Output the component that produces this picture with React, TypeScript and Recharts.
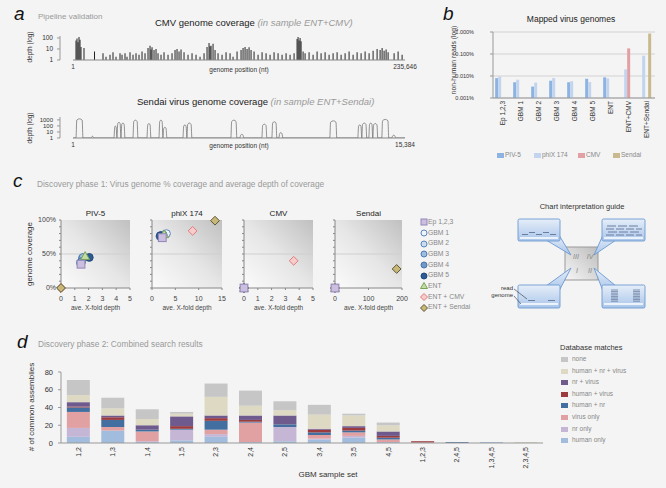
import React from 'react';
import {
  BarChart, Bar, XAxis, YAxis, CartesianGrid, ScatterChart, Scatter,
  ReferenceLine, ReferenceArea, LineChart, Line,
} from 'recharts';

const FONT = '"Liberation Sans", Arial, Helvetica, sans-serif';

// ---------- a: pipeline validation (genome position nt, read depth) ----------
const cmvLength = 235646;
const cmvCoverage: [number, number][] = [
  [2130, 60], [2840, 90], [3550, 40], [4260, 120], [4970, 70], [5680, 15], [7810, 12],
  [15265, 6], [21300, 4], [23430, 2], [26270, 3], [28400, 5], [30530, 2], [33370, 4],
  [34790, 3], [36920, 4], [38340, 2], [40470, 5], [42600, 3], [44730, 4], [46860, 3],
  [48990, 6], [51120, 4], [53250, 12], [54670, 20], [55380, 9], [56090, 14], [57510, 8], [58930, 10],
  [60350, 4], [62480, 3], [64610, 5], [67450, 3], [70290, 4], [72420, 8], [73840, 10],
  [75260, 6], [76680, 9], [78810, 5], [81650, 3], [84490, 4], [87330, 3], [90170, 2],
  [93010, 4], [95140, 15], [96560, 35], [97270, 18], [97980, 20], [99400, 30], [100820, 8], [102950, 4],
  [105790, 3], [108630, 5], [111470, 4], [113600, 2], [116440, 6], [119280, 8],
  [120700, 12], [122120, 15], [123540, 10], [124960, 14], [126380, 8], [128510, 6],
  [131350, 3], [134190, 5], [137030, 4], [139870, 3], [142710, 5], [145550, 4],
  [148390, 3], [151230, 4], [154070, 3], [156910, 4], [159040, 80], [159750, 120],
  [160460, 60], [161170, 100], [161880, 50], [163300, 6], [164720, 4], [167560, 5],
  [170400, 3], [173240, 6], [176080, 4], [178920, 5], [181760, 3], [184600, 4],
  [187440, 5], [190280, 3], [193120, 4], [195960, 6], [198800, 3], [201640, 5],
  [204480, 4], [207320, 6], [210160, 4], [213000, 7], [215840, 10], [217970, 8],
  [219390, 12], [220810, 7], [222230, 9], [223650, 5], [227910, 4], [230750, 6], [233590, 3],
];

const sendaiLength = 15384;
const sendaiCoverage: [number, number][] = [
  [1, 1],
  [139, 1], [176, 900], [301, 1500], [426, 900], [463, 1],
  [833, 1], [870, 1.5], [903, 2], [935, 1.5], [972, 1],
  [1898, 1], [1935, 60], [1968, 100], [2000, 60], [2037, 1],
  [2074, 240], [2130, 400], [2185, 240], [2222, 1],
  [2259, 180], [2315, 300], [2371, 180], [2408, 1],
  [2778, 1], [2815, 540], [2894, 900], [2973, 540], [3010, 1],
  [3426, 1], [3463, 150], [3519, 250], [3574, 150], [3611, 1],
  [3982, 1], [4019, 540], [4075, 900], [4130, 540], [4167, 1],
  [4204, 36], [4260, 60], [4315, 36], [4352, 1],
  [5093, 1], [5130, 90], [5186, 150], [5241, 90], [5278, 1],
  [5315, 180], [5394, 300], [5473, 180], [5510, 1],
  [7315, 1], [7352, 540], [7454, 900], [7556, 540], [7593, 1],
  [7732, 1], [7769, 3], [7825, 4], [7880, 3], [7917, 1],
  [8751, 1], [8788, 120], [8866, 200], [8945, 120], [8982, 1],
  [9214, 1], [9251, 300], [9330, 500], [9408, 300], [9445, 1],
  [9538, 1], [9575, 5], [9630, 8], [9686, 5], [9723, 1],
  [11899, 1], [11936, 420], [12061, 700], [12186, 420], [12223, 1],
  [13196, 1], [13233, 90], [13288, 150], [13344, 90], [13381, 1],
  [13418, 180], [13497, 300], [13575, 180], [13612, 1],
  [13705, 1], [13742, 180], [13797, 300], [13853, 180], [13890, 1],
  [13927, 150], [14006, 250], [14085, 150], [14122, 1],
  [14307, 1], [14344, 720], [14469, 1200], [14594, 720], [14631, 1],
  [14770, 1], [14807, 2], [14862, 3], [14918, 2], [14955, 1],
  [15384, 1],
];

// ---------- b: mapped virus genomes (% of non-human reads) ----------
const mappedSamples = ['Ep 1,2,3', 'GBM 1', 'GBM 2', 'GBM 3', 'GBM 4', 'GBM 5', 'ENT', 'ENT+CMV', 'ENT+Sendai'];
const piv5Reads = [0.008, 0.0052, 0.0033, 0.0061, 0.0052, 0.0075, 0.0087, null, null];
const phixReads = [0.0095, 0.0068, 0.005, 0.0081, 0.0058, 0.0053, 0.0078, 0.02, 0.084];
const cmvReads = [null, null, null, null, null, null, null, 0.18, null];
const sendaiReads = [null, null, null, null, null, null, null, null, 0.85];
const mappedSeries = [
  { key: 'piv5', name: 'PIV-5', color: '#8db3e2' },
  { key: 'phix', name: 'phiX 174', color: '#c3d5ee' },
  { key: 'cmv', name: 'CMV', color: '#e3a0a4' },
  { key: 'sendai', name: 'Sendai', color: '#c9b98e' },
];

// ---------- c: genome coverage (%) vs average depth ----------
const sampleNames = ['Ep 1,2,3', 'GBM 1', 'GBM 2', 'GBM 3', 'GBM 4', 'GBM 5', 'ENT', 'ENT + CMV', 'ENT + Sendai'];
const piv5Depth = [1.45, 1.55, 1.4, 1.6, 1.5, 2.05, 1.75, 0, 0];
const piv5Cov = [35, 44, 37, 45, 39, 45, 47, 0, 0];
const phixDepth = [2.2, 3.1, 2.4, 1.9, 1.7, 1.8, 2.6, 8.7, 13.5];
const phixCov = [74, 80, 78, 77, 76, 77, 79, 84, 99];
const cmvDepth = [0, 0, 0, 0, 0, 0, 0, 3.6, 0];
const cmvCov = [0, 0, 0, 0, 0, 0, 0, 40, 0];
const sendaiDepth = [0, 0, 0, 0, 0, 0, 0, 0, 184];
const sendaiCov = [0, 0, 0, 0, 0, 0, 0, 0, 28];
const covTicks = [0, 10, 20, 30, 40, 50, 60, 70, 80, 90, 100];

const sampleStyles = [
  { kind: 'square', fill: '#cbbfe0', stroke: '#9385b8' },
  { kind: 'circle', fill: '#eef4fb', stroke: '#5b84b8' },
  { kind: 'circle', fill: '#c9dcf0', stroke: '#5b84b8' },
  { kind: 'circle', fill: '#9dbde0', stroke: '#4f7bb0' },
  { kind: 'circle', fill: '#7099c9', stroke: '#4a74a8' },
  { kind: 'circle', fill: '#2c5a94', stroke: '#24497a' },
  { kind: 'triangle', fill: '#c2dca3', stroke: '#7aa357' },
  { kind: 'diamond', fill: '#f6cccc', stroke: '#e07b7b' },
  { kind: 'diamond', fill: '#c8b878', stroke: '#5e5535' },
];

// ---------- d: combined search results ----------
const sampleSets = ['1,2', '1,3', '1,4', '1,5', '2,3', '2,4', '2,5', '3,4', '3,5', '4,5', '1,2,3', '2,4,5', '1,3,4,5', '2,3,4,5'];
const humanOnly = [7, 14, 1, 3, 7, 1, 2, 4, 6, 1, 0, 0, 1, 0];
const nrOnly = [10, 0, 1, 12, 3, 0, 16, 1, 2, 0, 0, 0, 0, 0];
const virusOnly = [18, 4, 11, 0, 5, 22, 0, 4, 4, 3, 0.5, 0, 0, 0];
const humanNr = [5, 8, 2, 1, 10, 1, 3, 3, 2, 2, 0, 1, 0, 0];
const humanVirus = [1, 3, 0, 3, 3, 2, 0, 3, 3, 2, 1.5, 0, 0, 0];
const nrVirus = [5, 2, 5, 11, 3, 5, 10, 1, 2, 5, 0, 0, 0, 0];
const humanNrVirus = [8, 8, 7, 3, 21, 11, 6, 16, 12, 7, 0, 0, 0, 1];
const noMatch = [17, 12, 11, 2, 15, 17, 10, 11, 2, 3, 0, 0, 0, 0];
const matchSeries = [
  { key: 'humanOnly', name: 'human only', color: '#a1bcdc', values: humanOnly },
  { key: 'nrOnly', name: 'nr only', color: '#c5b6d6', values: nrOnly },
  { key: 'virusOnly', name: 'virus only', color: '#e1a1a2', values: virusOnly },
  { key: 'humanNr', name: 'human + nr', color: '#426f9f', values: humanNr },
  { key: 'humanVirus', name: 'human + virus', color: '#9b3b3e', values: humanVirus },
  { key: 'nrVirus', name: 'nr + virus', color: '#6f5a8e', values: nrVirus },
  { key: 'humanNrVirus', name: 'human + nr + virus', color: '#ddd9c3', values: humanNrVirus },
  { key: 'none', name: 'none', color: '#c6c6c6', values: noMatch },
];

function Txt({ x, y, size = 7, color = '#333', anchor = 'start', italic = false, children }: any) {
  const tx = anchor === 'middle' ? '-50%' : anchor === 'end' ? '-100%' : '0';
  return (
    <div
      style={{
        position: 'absolute', left: x, top: y - 0.846 * size, fontSize: size, lineHeight: 1,
        color, fontStyle: italic ? 'italic' : 'normal', whiteSpace: 'nowrap', transform: `translateX(${tx})`,
      }}
    >
      {children}
    </div>
  );
}

function VTxt({ x, y, size = 7, color = '#333', children }: any) {
  return (
    <div
      style={{
        position: 'absolute', left: x, top: y, fontSize: size, lineHeight: 1, color,
        whiteSpace: 'nowrap', transform: 'translate(-50%, -50%) rotate(-90deg)',
      }}
    >
      {children}
    </div>
  );
}

function RotTick(props: any) {
  const { x, y, payload, size = 7 } = props;
  return (
    <text x={x} y={y} transform={`rotate(-90 ${x} ${y})`} textAnchor="end" dominantBaseline="central" fontSize={size} fill="#333">
      {payload.value}
    </text>
  );
}

// y tick label of panel b, placed a fixed distance left of the axis
function PctTick(props: any) {
  const { y, payload } = props;
  return (
    <text x={34} y={y} textAnchor="end" dominantBaseline="central" fontSize={5.5} fill="#333">
      {payload.value.toFixed(3) + '%'}
    </text>
  );
}

function Marker({ cx, cy, kind, fill, stroke, r = 3.9 }: any) {
  if (cx == null || cy == null || isNaN(cx) || isNaN(cy)) return <g />;
  const common = { fill, stroke, strokeWidth: 1 };
  if (kind === 'square') return <rect x={cx - r} y={cy - r} width={2 * r} height={2 * r} {...common} />;
  if (kind === 'circle') return <circle cx={cx} cy={cy} r={r} {...common} />;
  if (kind === 'triangle')
    return <polygon points={`${cx},${cy - r - 0.5} ${cx + r + 0.5},${cy + r - 0.5} ${cx - r - 0.5},${cy + r - 0.5}`} {...common} />;
  return <polygon points={`${cx},${cy - r - 0.5} ${cx + r + 0.5},${cy} ${cx},${cy + r + 0.5} ${cx - r - 0.5},${cy}`} {...common} />;
}

const fmtNt = (v: number) => v.toLocaleString('en-US');

function CmvTrack() {
  const data = cmvCoverage.map(([pos, depth]) => ({ pos, depth }));
  return (
    <div style={{ position: 'absolute', left: 0, top: 30 }}>
      <BarChart width={420} height={45} data={data} margin={{ top: 6, right: 15, left: 20, bottom: 0 }}>
        <XAxis
          type="number" dataKey="pos" domain={[1, cmvLength]} ticks={[1, cmvLength]} interval={0}
          padding={{ left: 13, right: 0 }} axisLine={false} tickLine={false} height={15}
          tickSize={2} tickMargin={2} tick={{ fontSize: 6.5, fill: '#333' }} tickFormatter={fmtNt}
        />
        <YAxis
          scale="log" domain={[1, 150]} ticks={[1, 10, 100]} interval={0} width={40} allowDataOverflow
          tickSize={3} tickMargin={4} tick={{ fontSize: 6.5, fill: '#333' }}
          axisLine={{ stroke: '#999' }} tickLine={{ stroke: '#999' }}
        />
        <Bar dataKey="depth" fill="#222" barSize={1} isAnimationActive={false} />
        <ReferenceLine segment={[{ x: 1, y: 1 }, { x: cmvLength, y: 1 }]} stroke="#888" />
      </BarChart>
    </div>
  );
}

function SendaiTrack() {
  const data = sendaiCoverage.map(([pos, depth]) => ({ pos, depth }));
  return (
    <div style={{ position: 'absolute', left: 0, top: 110 }}>
      <LineChart width={420} height={43} data={data} margin={{ top: 7, right: 15, left: 20, bottom: 0 }}>
        <XAxis
          type="number" dataKey="pos" domain={[1, sendaiLength]} ticks={[1, sendaiLength]} interval={0}
          padding={{ left: 13, right: 0 }} axisLine={false} tickLine={false} height={15}
          tickSize={2} tickMargin={2} tick={{ fontSize: 6.5, fill: '#333' }} tickFormatter={fmtNt}
        />
        <YAxis
          scale="log" domain={[1, 3000]} ticks={[1, 10, 100, 1000]} interval={0} width={40} allowDataOverflow
          tickSize={3} tickMargin={4} tick={{ fontSize: 6, fill: '#333' }}
          axisLine={{ stroke: '#999' }} tickLine={{ stroke: '#999' }}
        />
        <ReferenceLine segment={[{ x: 1, y: 1 }, { x: sendaiLength, y: 1 }]} stroke="#888" />
        <Line type="monotone" dataKey="depth" stroke="#777" strokeWidth={0.8} dot={false} isAnimationActive={false} />
      </LineChart>
    </div>
  );
}

function MappedChart() {
  const data = mappedSamples.map((name, i) => ({
    name, piv5: piv5Reads[i], phix: phixReads[i], cmv: cmvReads[i], sendai: sendaiReads[i],
  }));
  return (
    <div style={{ position: 'absolute', left: 440, top: 20 }}>
      <BarChart width={226} height={125} data={data} margin={{ top: 12, right: 11, left: 20, bottom: 0 }} barGap={0} barCategoryGap="12%">
        <CartesianGrid vertical={false} stroke="#d2d2d2" />
        <XAxis
          dataKey="name" height={47} interval={0} tickLine={false} axisLine={{ stroke: '#999' }}
          tickSize={2} tickMargin={1} tick={<RotTick size={6.5} />}
        />
        <YAxis
          scale="log" domain={[0.001, 1]} ticks={[0.001, 0.01, 0.1, 1]} interval={0} allowDataOverflow
          width={33} tickSize={3} axisLine={{ stroke: '#999' }} tickLine={{ stroke: '#999' }} tick={<PctTick />}
        />
        {mappedSeries.map((s) => (
          <Bar
            key={s.key} dataKey={s.key} fill={s.color} isAnimationActive={false}
            shape={(p: any) =>
              p.payload[s.key] == null || !isFinite(p.height) || !isFinite(p.y) ? (
                <g />
              ) : (
                <rect x={p.x} y={p.y} width={p.width} height={p.height} fill={s.color} />
              )
            }
          />
        ))}
      </BarChart>
    </div>
  );
}

function CoverageScatter({ id, title, depth, cov, xMax, xTicks, plotLeft, plotWidth, yLabels }: any) {
  const order = [1, 2, 3, 4, 5, 6, 7, 8, 0];
  return (
    <>
      <Txt x={plotLeft + plotWidth / 2} y={216.7} size={8} anchor="middle" color="#222">{title}</Txt>
      <div style={{ position: 'absolute', left: plotLeft - 41, top: 210 }}>
        <ScatterChart width={41 + plotWidth + 8} height={95} margin={{ top: 10, right: 8, left: 0, bottom: 0 }}>
          <defs>
            <linearGradient id={id} x1="0" y1="1" x2="1" y2="0">
              <stop offset="0" stopColor="#fbfbfb" />
              <stop offset="0.5" stopColor="#e6e6e6" />
              <stop offset="1" stopColor="#c0c0c0" />
            </linearGradient>
          </defs>
          <XAxis
            type="number" dataKey="x" domain={[0, xMax]} ticks={xTicks} interval={0} height={17}
            tickSize={2} tickMargin={6} tick={{ fontSize: 7, fill: '#444' }}
            axisLine={{ stroke: '#888' }} tickLine={{ stroke: '#888' }}
          />
          <YAxis
            type="number" dataKey="y" domain={[0, 100]} ticks={covTicks} interval={0} width={41}
            tickSize={2} tickMargin={3}
            tick={yLabels ? { fontSize: 7, fill: '#444' } : () => <g />}
            tickFormatter={(v: number) => (v % 50 === 0 ? v + '%' : '')}
            axisLine={{ stroke: '#888' }} tickLine={{ stroke: '#888' }}
          />
          <ReferenceArea x1={0} x2={xMax} y1={0} y2={100} fill={`url(#${id})`} fillOpacity={1} stroke="none" />
          <ReferenceLine y={50} stroke="#cfcfcf" />
          {order.map((i) => (
            <Scatter
              key={i} name={sampleNames[i]} data={[{ x: depth[i], y: cov[i] }]} isAnimationActive={false}
              shape={(p: any) => <Marker cx={p.cx} cy={p.cy} {...sampleStyles[i]} />}
            />
          ))}
        </ScatterChart>
      </div>
      <Txt x={plotLeft + plotWidth / 2} y={310} size={6.5} anchor="middle" color="#444">ave. X-fold depth</Txt>
    </>
  );
}

function MatchesChart() {
  const data = sampleSets.map((set, i) => {
    const row: any = { set };
    matchSeries.forEach((s) => { row[s.key] = s.values[i]; });
    return row;
  });
  return (
    <div style={{ position: 'absolute', left: 0, top: 360 }}>
      <BarChart width={560} height={120} data={data} margin={{ top: 12, right: 17, left: 25, bottom: 0 }} barCategoryGap="17%">
        <XAxis
          dataKey="set" height={37} interval={0} tickLine={false} axisLine={{ stroke: '#999' }}
          tickSize={2} tickMargin={2} tick={<RotTick size={7} />}
        />
        <YAxis
          domain={[0, 80]} ticks={[0, 20, 40, 60, 80]} interval={0} width={36} tickSize={3} tickMargin={5}
          tick={{ fontSize: 7.5, fill: '#333' }} axisLine={{ stroke: '#999' }} tickLine={{ stroke: '#999' }}
        />
        {matchSeries.map((s) => (
          <Bar key={s.key} dataKey={s.key} stackId="m" fill={s.color} isAnimationActive={false} />
        ))}
      </BarChart>
    </div>
  );
}

function Guide() {
  const box = { fill: 'url(#gBox)', stroke: '#6b98d0', strokeWidth: 0.9 };
  const dash = { stroke: '#6a7fa0', strokeWidth: 1 };
  const pileY = [290, 291.6, 293.2, 294.8, 296.4, 298, 299.6, 301.2];
  return (
    <svg width={186} height={120} style={{ position: 'absolute', left: 480, top: 195 }}>
      <defs>
        <linearGradient id="gBox" x1="0" y1="0" x2="0" y2="1">
          <stop offset="0" stopColor="#e6eef9" />
          <stop offset="1" stopColor="#a9c5ea" />
        </linearGradient>
        <linearGradient id="gSq" x1="0" y1="1" x2="1" y2="0">
          <stop offset="0" stopColor="#f6f6f6" />
          <stop offset="1" stopColor="#bdbdbd" />
        </linearGradient>
      </defs>
      <g transform="translate(-480 -195)">
        <text x={582} y={209} fontSize={7.5} textAnchor="middle" fill="#333">Chart interpretation guide</text>
        <rect x={565} y={247} width={33} height={33} fill="url(#gSq)" stroke="#999" />
        <g fontSize={7} fontStyle="italic" fill="#888" textAnchor="middle">
          <text x={576} y={259}>III</text>
          <text x={590} y={259}>IV</text>
          <text x={577} y={273}>I</text>
          <text x={590} y={273}>II</text>
        </g>
        <polygon points="546,240 559,235 571,255" {...box} />
        <polygon points="603,235 616,240 594,255" {...box} />
        <polygon points="546,286 559,291 571,268" {...box} />
        <polygon points="603,291 616,286 594,268" {...box} />
        <rect x={518} y={219} width={42} height={22} rx={1.5} {...box} />
        <rect x={602} y={219} width={43} height={22} rx={1.5} {...box} />
        <rect x={518} y={285} width={42} height={23} rx={1.5} {...box} />
        <rect x={602} y={285} width={43} height={23} rx={1.5} {...box} />
        {/* genome lines */}
        <line x1={520} y1={238} x2={558} y2={238} stroke="#fff" strokeWidth={1.5} />
        <line x1={604} y1={238} x2={643} y2={238} stroke="#fff" strokeWidth={1.5} />
        <line x1={520} y1={304} x2={558} y2={304} stroke="#fff" strokeWidth={1.5} />
        <line x1={604} y1={304} x2={643} y2={304} stroke="#fff" strokeWidth={1.5} />
        {/* reads */}
        <line x1={522} y1={234.5} x2={528} y2={234.5} {...dash} />
        <line x1={529} y1={232.5} x2={535} y2={232.5} {...dash} />
        <line x1={536} y1={234.5} x2={542} y2={234.5} {...dash} />
        <line x1={543} y1={232.5} x2={549} y2={232.5} {...dash} />
        <line x1={550} y1={234.5} x2={556} y2={234.5} {...dash} />
        <path d="M607 226h9M618 226h9M629 226h9M606 229h8M616 229h8M626 229h8M636 229h6M608 232h9M619 232h9M630 232h9M606 235h8M616 235h8M626 235h8M636 235h6" {...dash} />
        <line x1={528} y1={300.5} x2={535} y2={300.5} {...dash} />
        <line x1={548} y1={300.5} x2={555} y2={300.5} {...dash} />
        {pileY.map((y) => (
          <g key={y}>
            <line x1={611} y1={y} x2={618} y2={y} {...dash} strokeWidth={0.8} />
            <line x1={633} y1={y} x2={640} y2={y} {...dash} strokeWidth={0.8} />
          </g>
        ))}
        <text x={513} y={290} fontSize={6} textAnchor="end" fill="#333">read</text>
        <text x={513} y={297} fontSize={6} textAnchor="end" fill="#333">genome</text>
        <line x1={514} y1={289} x2={527} y2={299} stroke="#333" strokeWidth={0.6} />
        <line x1={514} y1={296} x2={521} y2={304} stroke="#333" strokeWidth={0.6} />
      </g>
    </svg>
  );
}

export default function App() {
  const cLegendY = [222.3, 233, 243.7, 254.3, 265, 275.7, 286.3, 297, 307.7];
  const dLegendY = [359, 371, 382, 394, 405, 417, 429, 440];
  const legendOrder = [...matchSeries].reverse();
  const bLegendX = [497, 534, 578, 613];
  return (
    <div
      style={{
        position: 'absolute', left: 0, top: 0, width: 666, height: 488, overflow: 'hidden',
        background: '#f4f4f4', fontFamily: FONT,
      }}
    >
      {/* a */}
      <Txt x={14} y={20} size={19} italic color="#111">a</Txt>
      <Txt x={38} y={19.3} size={8} color="#999">Pipeline validation</Txt>
      <Txt x={155} y={26} size={9.5} color="#222">
        CMV genome coverage <span style={{ fontStyle: 'italic', color: '#999' }}>(in sample ENT+CMV)</span>
      </Txt>
      <VTxt x={30} y={47} size={6.5}>depth (log)</VTxt>
      <CmvTrack />
      <Txt x={239} y={72} size={6.5} anchor="middle">genome position (nt)</Txt>
      <Txt x={137} y={105} size={9.5} color="#222">
        Sendai virus genome coverage <span style={{ fontStyle: 'italic', color: '#999' }}>(in sample ENT+Sendai)</span>
      </Txt>
      <VTxt x={30} y={128} size={6.5}>depth (log)</VTxt>
      <SendaiTrack />
      <Txt x={239} y={148} size={6.5} anchor="middle">genome position (nt)</Txt>

      {/* b */}
      <Txt x={443} y={20} size={19} italic color="#111">b</Txt>
      <Txt x={571} y={22.5} size={8.5} anchor="middle" color="#222">Mapped virus genomes</Txt>
      <VTxt x={454} y={60} size={6.8}>non-human reads (log)</VTxt>
      <MappedChart />
      {mappedSeries.map((s, i) => (
        <React.Fragment key={s.key}>
          <div style={{ position: 'absolute', left: bLegendX[i], top: 153, width: 7, height: 5, background: s.color }} />
          <Txt x={bLegendX[i] + 8} y={157.5} size={6.5} color="#888">{s.name}</Txt>
        </React.Fragment>
      ))}

      {/* c */}
      <Txt x={13} y={187} size={19} italic color="#111">c</Txt>
      <Txt x={37} y={187} size={8.3} color="#999">Discovery phase 1: Virus genome % coverage and average depth of coverage</Txt>
      <VTxt x={30} y={254} size={8}>genome coverage</VTxt>
      <CoverageScatter id="gP" title="PIV-5" depth={piv5Depth} cov={piv5Cov} xMax={5} xTicks={[0, 1, 2, 3, 4, 5]} plotLeft={61} plotWidth={69} yLabels />
      <CoverageScatter id="gX" title="phiX 174" depth={phixDepth} cov={phixCov} xMax={15} xTicks={[0, 5, 10, 15]} plotLeft={152} plotWidth={70} />
      <CoverageScatter id="gC" title="CMV" depth={cmvDepth} cov={cmvCov} xMax={5} xTicks={[0, 1, 2, 3, 4, 5]} plotLeft={244} plotWidth={69} />
      <CoverageScatter id="gS" title="Sendai" depth={sendaiDepth} cov={sendaiCov} xMax={200} xTicks={[0, 100, 200]} plotLeft={335} plotWidth={67} />
      {sampleNames.map((n, i) => (
        <React.Fragment key={n}>
          <svg width={10} height={10} style={{ position: 'absolute', left: 419, top: cLegendY[i] - 5 }}>
            <Marker cx={5} cy={5} r={3} {...sampleStyles[i]} />
          </svg>
          <Txt x={428} y={cLegendY[i] + 2.4} size={6.8} color="#888">{n}</Txt>
        </React.Fragment>
      ))}
      <Guide />

      {/* d */}
      <Txt x={17} y={348} size={19} italic color="#111">d</Txt>
      <Txt x={38} y={347} size={8.3} color="#999">Discovery phase 2: Combined search results</Txt>
      <VTxt x={32} y={407} size={8}># of common assemblies</VTxt>
      <MatchesChart />
      <Txt x={328} y={478} size={8} anchor="middle">GBM sample set</Txt>
      <Txt x={560} y={350} size={7.5} color="#333">Database matches</Txt>
      {legendOrder.map((s, i) => (
        <React.Fragment key={s.key}>
          <div style={{ position: 'absolute', left: 561, top: dLegendY[i] - 2.5, width: 7, height: 5, background: s.color }} />
          <Txt x={572} y={dLegendY[i] + 2.3} size={6.5} color="#888">{s.name}</Txt>
        </React.Fragment>
      ))}
    </div>
  );
}
